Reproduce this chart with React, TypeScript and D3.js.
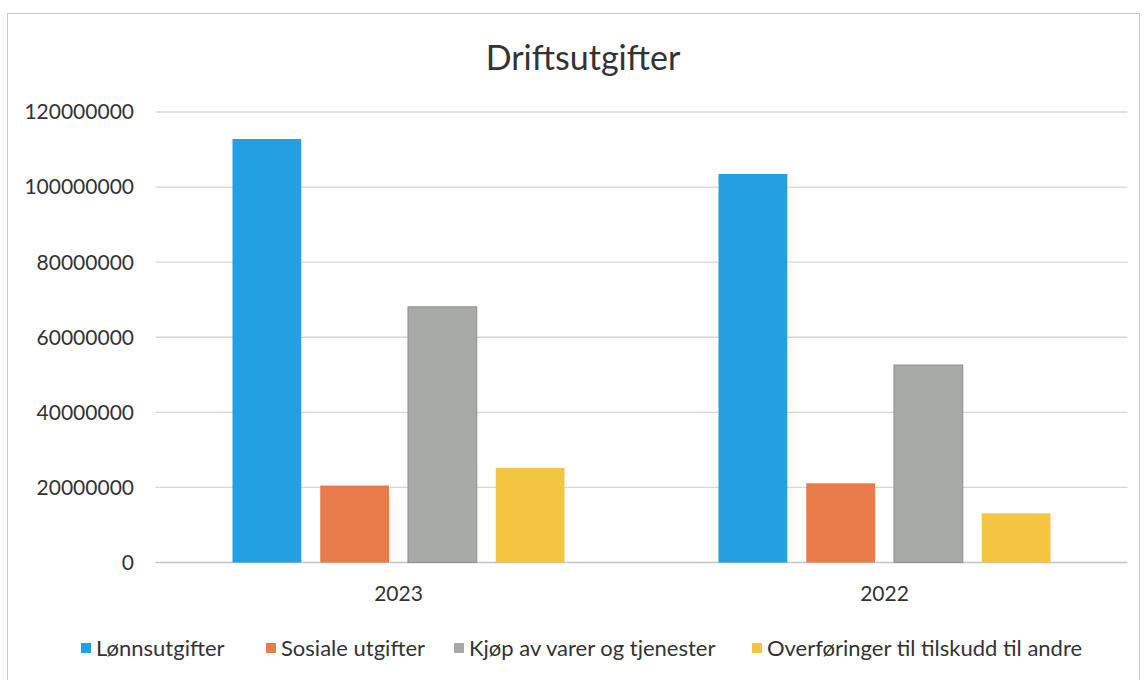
import React from 'react';
import * as d3 from 'd3';

const years = ['2023', '2022'];
const seriesNames = [
  'Lønnsutgifter',
  'Sosiale utgifter',
  'Kjøp av varer og tjenester',
  'Overføringer til tilskudd til andre',
];
const lonn = [112800000, 103500000];
const sosiale = [20500000, 21100000];
const kjop = [68100000, 52600000];
const overforinger = [25200000, 13100000];
const yTicks = [0, 20000000, 40000000, 60000000, 80000000, 100000000, 120000000];
const colors = ['#239fe2', '#e97a4a', '#a8aaa8', '#f3c541'];

const W = 1144;
const H = 680;
const FONT = 'Lato, "Open Sans", sans-serif';

const App = () => {
  const values = [lonn, sosiale, kjop, overforinger];
  const margin = { top: 112, right: 16.5, bottom: 117.5, left: 155.5 };

  const x0 = d3.scaleBand().domain(years).range([margin.left, W - margin.right]);
  const x1 = d3
    .scaleBand()
    .domain(seriesNames)
    .range([77, x0.bandwidth() - 77])
    .paddingInner(0.216);
  const y = d3
    .scaleLinear()
    .domain([0, 120000000])
    .range([H - margin.bottom, margin.top]);

  // legend item start positions
  const legendX = [81, 266, 454, 752];

  return (
    <div style={{ position: 'fixed', left: 0, top: 0 }}>
      <svg width={W} height={H} style={{ display: 'block', background: '#fff' }}>
        <rect x={7.5} y={13.5} width={1132} height={680} fill="#fff" stroke="#c8c8c8" />
        <text
          x={583}
          y={70}
          textAnchor="middle"
          fontFamily={FONT}
          fontSize={34}
          fill="#333"
        >
          Driftsutgifter
        </text>

        {yTicks.map((t) => (
          <g key={t}>
            <line
              x1={margin.left}
              x2={W - margin.right}
              y1={y(t)}
              y2={y(t)}
              stroke={t === 0 ? '#c4c4c4' : '#d6d6d6'}
              strokeWidth={1.3}
            />
            <text
              x={134}
              y={y(t)}
              dy="0.35em"
              textAnchor="end"
              fontFamily={FONT}
              fontSize={21}
              fill="#333"
            >
              {t}
            </text>
          </g>
        ))}

        {years.map((yr, i) => (
          <g key={yr} transform={`translate(${x0(yr)},0)`}>
            {seriesNames.map((s, j) => (
              <rect
                key={s}
                x={x1(s)}
                y={y(values[j][i])}
                width={x1.bandwidth()}
                height={y(0) - y(values[j][i])}
                fill={colors[j]}
                stroke={j === 2 ? '#8c8e8c' : 'none'}
                strokeWidth={1}
              />
            ))}
            <text
              x={x0.bandwidth() / 2}
              y={601}
              textAnchor="middle"
              fontFamily={FONT}
              fontSize={21}
              fill="#333"
            >
              {yr}
            </text>
          </g>
        ))}

        {seriesNames.map((s, j) => (
          <g key={s} transform={`translate(${legendX[j]},648)`}>
            <rect x={0} y={-5} width={10} height={10} fill={colors[j]} />
            <text x={15} y={0} dy="0.35em" fontFamily={FONT} fontSize={22} fill="#333">
              {s}
            </text>
          </g>
        ))}
      </svg>
    </div>
  );
};

export default App;
